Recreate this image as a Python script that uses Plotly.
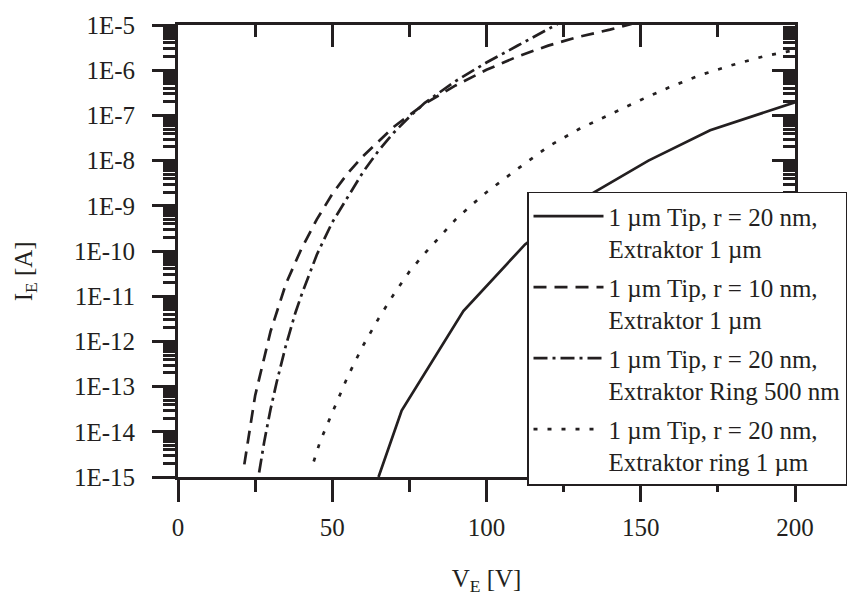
import plotly.graph_objects as go

# ---- data ----
v_solid = [65, 72.5, 92.5, 112.5, 132.5, 152.5, 172.5, 200]
i_solid = [1.0e-15, 2.95e-14, 4.7e-12, 1.4e-10, 1.6e-9, 1.0e-8, 4.7e-8, 1.95e-7]

v_dash = [21.5, 25, 30, 35, 40, 45, 50, 55, 60, 70, 80, 90, 100, 110, 120, 130, 140, 147]
i_dash = [1.9e-15, 6.3e-14, 1.66e-12, 1.9e-11, 1.12e-10, 5.0e-10, 1.82e-9, 5.25e-9, 1.26e-8,
          5.6e-8, 1.82e-7, 4.6e-7, 1.02e-6, 2.0e-6, 3.5e-6, 5.5e-6, 7.9e-6, 1.05e-5]

v_dashdot = [26.3, 28, 30, 32, 35, 38, 40, 45, 50, 55, 60, 65, 70, 75, 80, 90, 100, 110, 120, 123]
i_dashdot = [1.26e-15, 6.3e-15, 3.16e-14, 1.26e-13, 8.3e-13, 4.2e-12, 1.05e-11, 8.3e-11, 4.3e-10,
             1.58e-9, 5.6e-9, 1.66e-8, 4.2e-8, 9.3e-8, 1.9e-7, 5.75e-7, 1.48e-6, 3.47e-6, 7.9e-6, 1.05e-5]

v_dot = [44, 46, 48, 50, 55, 60, 65, 70, 75, 80, 85, 90, 95, 100, 110, 120, 130, 140, 150,
         160, 170, 180, 190, 200]
i_dot = [2.2e-15, 5.9e-15, 1.26e-14, 2.7e-14, 1.66e-13, 8.1e-13, 3.2e-12, 1.12e-11, 3.5e-11,
         8.9e-11, 2.1e-10, 5.0e-10, 1.02e-9, 2.0e-9, 6.5e-9, 2.04e-8, 5.0e-8, 1.07e-7, 2.2e-7,
         4.4e-7, 8.1e-7, 1.32e-6, 2.04e-6, 2.8e-6]

names = [
    "1 µm Tip, r = 20 nm,<br>Extraktor 1 µm",
    "1 µm Tip, r = 10 nm,<br>Extraktor 1 µm",
    "1 µm Tip, r = 20 nm,<br>Extraktor Ring 500 nm",
    "1 µm Tip, r = 20 nm,<br>Extraktor ring 1 µm",
]

y_tickvals = [1e-15, 1e-14, 1e-13, 1e-12, 1e-11, 1e-10, 1e-9, 1e-8, 1e-7, 1e-6, 1e-5]
y_ticktext = ["1E-15", "1E-14", "1E-13", "1E-12", "1E-11", "1E-10",
              "1E-9", "1E-8", "1E-7", "1E-6", "1E-5"]

# ---- styling ----
INK = "#231f20"
FONT = "Liberation Serif"
FS = 25
LW = 2.7
dashes = ["solid", "13px,8px", "14px,5px,3px,5px", "4px,10px"]
series = [(v_solid, i_solid), (v_dash, i_dash), (v_dashdot, i_dashdot), (v_dot, i_dot)]

minor_y = [k * 10.0 ** e for e in range(-15, -5) for k in range(2, 10)]

fig = go.Figure()
for idx, ((xv, yv), nm, dsh) in enumerate(zip(series, names, dashes)):
    fig.add_trace(go.Scatter(
        x=xv, y=yv, mode="lines", name=nm, legendgroup=f"g{idx}",
        line=dict(color=INK, width=LW, dash=dsh),
    ))

# empty holders for the mirrored axes: top (x2 with y) and right (x with y2)
fig.add_trace(go.Scatter(x=[None], y=[None], xaxis="x2", yaxis="y", showlegend=False,
                         hoverinfo="skip", mode="lines"))
fig.add_trace(go.Scatter(x=[None], y=[None], xaxis="x", yaxis="y2", showlegend=False,
                         hoverinfo="skip", mode="lines"))


def xax(tickdir):
    return dict(type="linear", range=[0, 200], tickmode="linear", tick0=0, dtick=50,
                showgrid=False, zeroline=False, showline=True, linecolor=INK, linewidth=3,
                ticks=tickdir, tickcolor=INK, tickwidth=3, ticklen=22,
                minor=dict(ticks=tickdir, dtick=25, tick0=0,
                           ticklen=12, tickwidth=3, tickcolor=INK, showgrid=False))


def yax(tickdir):
    return dict(type="log", range=[-15, -5], tickmode="array", tickvals=y_tickvals,
                ticktext=y_ticktext, showgrid=False, zeroline=False, showline=True,
                linecolor=INK, linewidth=3, ticks=tickdir, tickcolor=INK, tickwidth=3,
                ticklen=23,
                minor=dict(tickmode="array", tickvals=minor_y, ticks=tickdir, ticklen=12,
                           tickwidth=2.5, tickcolor=INK, showgrid=False))


fig.update_layout(
    width=863, height=608,
    margin=dict(l=178, r=68, t=22, b=131),
    paper_bgcolor="white", plot_bgcolor="white",
    font=dict(family=FONT, size=FS, color=INK),
    xaxis=dict(**xax("outside"), ticklabelstandoff=4,
               title=dict(text="V<sub>E</sub> [V]", standoff=30,
                          font=dict(family=FONT, size=FS, color=INK))),
    yaxis=dict(**yax("outside"), ticklabelstandoff=12),
    xaxis2=dict(**xax("inside"), overlaying="x", side="top", anchor="y",
                showticklabels=False),
    yaxis2=dict(**yax("inside"), overlaying="y", side="right", anchor="x",
                showticklabels=False),
    showlegend=True,
    legend=dict(x=(527 - 178) / 617, y=(477 - 190) / 455, xanchor="left", yanchor="top",
                bgcolor="white", bordercolor=INK, borderwidth=1.5,
                font=dict(family=FONT, size=FS, color=INK),
                valign="top", tracegroupgap=3, itemwidth=70),
    annotations=[dict(text="I<sub>E</sub> [A]", textangle=-90, showarrow=False,
                      xref="paper", yref="paper", x=(25 - 178) / 617, y=(477 - 270) / 455,
                      xanchor="center", yanchor="middle",
                      font=dict(family=FONT, size=FS, color=INK))],
)

fig.write_html("out.html")
